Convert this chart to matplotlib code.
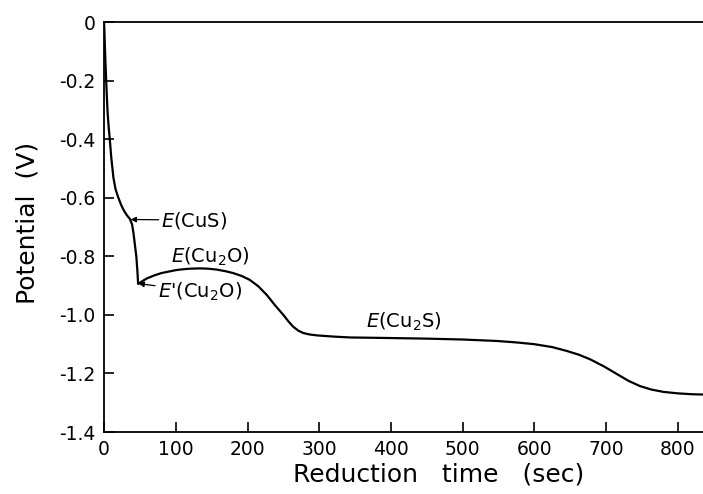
import matplotlib.pyplot as plt

# reduction time (sec) and potential (V)
time_s = [0, 0.5, 1, 2, 3, 4, 5, 6.5, 8, 10, 13, 16, 20, 24, 28, 32, 36,
          39, 41, 43, 45, 46.5, 47.5, 50, 55, 60, 70, 80, 90, 100, 110,
          120, 134, 145, 157, 170, 180, 192, 203, 215, 227, 238, 250, 257,
          264, 271, 278, 287, 297, 320, 343, 400, 450, 500, 548, 575, 600,
          625, 645, 662, 678, 697, 715, 731, 747, 763, 780, 800, 820, 835]
potential_v = [0, -0.03, -0.07, -0.14, -0.2, -0.26, -0.31, -0.36, -0.4,
               -0.46, -0.53, -0.57, -0.6, -0.625, -0.645, -0.66, -0.672,
               -0.69, -0.72, -0.76, -0.8, -0.85, -0.894, -0.89, -0.882,
               -0.875, -0.865, -0.857, -0.852, -0.847, -0.844, -0.842,
               -0.841, -0.842, -0.845, -0.851, -0.857, -0.867, -0.88,
               -0.902, -0.932, -0.966, -1.0, -1.022, -1.041, -1.054, -1.062,
               -1.067, -1.07, -1.074, -1.077, -1.079, -1.081, -1.084,
               -1.089, -1.094, -1.1, -1.11, -1.123, -1.136, -1.152, -1.176,
               -1.202, -1.225, -1.243, -1.255, -1.263, -1.268, -1.271, -1.272]

x_ticks = [0, 100, 200, 300, 400, 500, 600, 700, 800]
y_ticks = [0, -0.2, -0.4, -0.6, -0.8, -1.0, -1.2, -1.4]
y_labels = ["0", "-0.2", "-0.4", "-0.6", "-0.8", "-1.0", "-1.2", "-1.4"]

fig = plt.figure(figsize=(7.03, 4.94), dpi=100)
ax = fig.add_axes([0.148, 0.1255, 0.852, 0.8295])

ax.plot(time_s, potential_v, color="black", linewidth=1.6)

ax.set_xlim(0, 835)
ax.set_ylim(-1.4, 0)
ax.set_xticks(x_ticks)
ax.set_xticklabels([str(v) for v in x_ticks])
ax.set_yticks(y_ticks)
ax.set_yticklabels(y_labels)
ax.tick_params(direction="in", length=7, width=1.2, labelsize=13.5, pad=6)
ax.spines["right"].set_visible(False)
for side in ("left", "bottom", "top"):
    ax.spines[side].set_linewidth(1.3)

ax.set_xlabel("Reduction   time   (sec)", fontsize=18)
ax.xaxis.set_label_coords(0.559, -0.075)
ax.set_ylabel("Potential  (V)", fontsize=18)
ax.yaxis.set_label_coords(-0.108, 0.51)

arrow = dict(arrowstyle="-|>", color="black", lw=0.9,
             mutation_scale=8, shrinkA=0, shrinkB=0)
ax.annotate(r"$E$(CuS)", xy=(37, -0.674), xytext=(80, -0.676),
            fontsize=14, va="center", arrowprops=arrow)
ax.text(94, -0.80, r"$E$(Cu$_2$O)", fontsize=14, va="center")
ax.annotate(r"$E$'(Cu$_2$O)", xy=(48, -0.893), xytext=(75, -0.92),
            fontsize=14, va="center", arrowprops=arrow)
ax.text(365, -1.024, r"$E$(Cu$_2$S)", fontsize=14, va="center")

fig.savefig("out.png", dpi=100)
